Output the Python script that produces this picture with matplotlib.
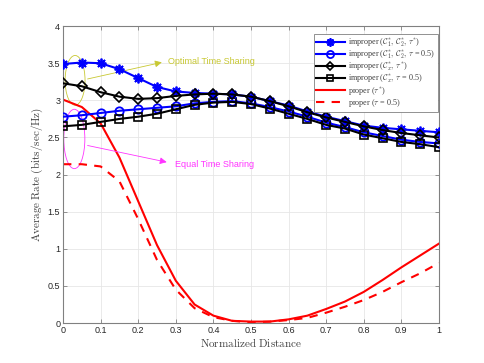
import numpy as np
import matplotlib
matplotlib.use("Agg")
import matplotlib.pyplot as plt
from matplotlib.patches import Ellipse

plt.rcParams['mathtext.fontset'] = 'cm'
plt.rcParams['font.family'] = ['Liberation Sans', 'DejaVu Sans']

distance = [0.0, 0.05, 0.1, 0.15, 0.2, 0.25, 0.3, 0.35, 0.4, 0.45, 0.5,
            0.55, 0.6, 0.65, 0.7, 0.75, 0.8, 0.85, 0.9, 0.95, 1.0]

improper_c1c2_opt = [3.49, 3.51, 3.50, 3.42, 3.30, 3.18, 3.12, 3.10, 3.09, 3.08, 3.05,
                     2.99, 2.93, 2.85, 2.78, 2.72, 2.66, 2.63, 2.61, 2.59, 2.57]
improper_c1c2_half = [2.78, 2.80, 2.83, 2.86, 2.88, 2.90, 2.92, 2.96, 2.98, 2.99, 2.96,
                      2.91, 2.85, 2.78, 2.70, 2.64, 2.57, 2.52, 2.47, 2.44, 2.42]
improper_cx_opt = [3.23, 3.19, 3.11, 3.05, 3.02, 3.03, 3.06, 3.08, 3.09, 3.08, 3.05,
                   2.99, 2.92, 2.84, 2.77, 2.71, 2.65, 2.60, 2.56, 2.53, 2.50]
improper_cx_half = [2.65, 2.67, 2.71, 2.75, 2.78, 2.82, 2.88, 2.94, 2.97, 2.98, 2.95,
                    2.89, 2.82, 2.75, 2.67, 2.62, 2.54, 2.49, 2.44, 2.41, 2.37]
proper_opt = [3.01, 2.91, 2.69, 2.23, 1.64, 1.05, 0.57, 0.25, 0.10, 0.03, 0.02,
              0.02, 0.05, 0.10, 0.19, 0.29, 0.42, 0.58, 0.75, 0.91, 1.07]
proper_half = [2.14, 2.14, 2.11, 1.91, 1.40, 0.85, 0.45, 0.20, 0.08, 0.03, 0.01,
               0.02, 0.04, 0.07, 0.14, 0.22, 0.31, 0.42, 0.55, 0.67, 0.81]

labels = [r'improper ($\mathcal{C}_1^{*},\,\mathcal{C}_2^{*},\,\tau^{*}$)',
          r'improper ($\mathcal{C}_1^{*},\,\mathcal{C}_2^{*},\,\tau$ = 0.5)',
          r'improper ($\mathcal{C}_x^{*},\,\tau^{*}$)',
          r'improper ($\mathcal{C}_x^{*},\,\tau$ = 0.5)',
          r'proper ($\tau^{*}$)',
          r'proper ($\tau$ = 0.5)']

fig = plt.figure(figsize=(4.85, 3.63), dpi=100)
ax = fig.add_axes([0.13, 0.11, 0.775, 0.818])

lw = 1.5
ax.plot(distance, improper_c1c2_opt, color='#0000ff', lw=lw, marker=(8, 2, 0),
        ms=7, mew=1.3, label=labels[0], zorder=5)
ax.plot(distance, improper_c1c2_half, color='#0000ff', lw=lw, marker='o',
        ms=6, mew=1.3, mfc='none', label=labels[1], zorder=4)
ax.plot(distance, improper_cx_opt, color='k', lw=lw, marker='D',
        ms=5, mew=1.2, mfc='none', label=labels[2], zorder=5)
ax.plot(distance, improper_cx_half, color='k', lw=lw, marker='s',
        ms=5.5, mew=1.2, mfc='none', label=labels[3], zorder=4)
ax.plot(distance, proper_opt, color='#ff0000', lw=lw, label=labels[4])
ax.plot(distance, proper_half, color='#ff0000', lw=lw, ls=(0, (4, 3.5)), label=labels[5])

ycol = '#c8c832'
mcol = '#ff33ff'
ax.add_patch(Ellipse((0.032, 3.27), 0.053, 0.67, fill=False, edgecolor=ycol, lw=0.6))
ax.add_patch(Ellipse((0.030, 2.48), 0.056, 0.80, fill=False, edgecolor=mcol, lw=0.6))
ax.annotate('', xy=(0.27, 3.52), xytext=(0.058, 3.28),
            arrowprops=dict(arrowstyle='-|>', color=ycol, lw=0.6, mutation_scale=10))
ax.text(0.28, 3.52, 'Optimal Time Sharing', color=ycol, fontsize=6.5, va='center', ha='left')
ax.annotate('', xy=(0.283, 2.16), xytext=(0.058, 2.40),
            arrowprops=dict(arrowstyle='-|>', color=mcol, lw=0.6, mutation_scale=10))
ax.text(0.298, 2.14, 'Equal Time Sharing', color=mcol, fontsize=6.5, va='center', ha='left')

ax.set_xlim(0, 1)
ax.set_ylim(0, 4)
ax.set_xticks(np.arange(0, 1.01, 0.1))
ax.set_xticklabels(['0', '0.1', '0.2', '0.3', '0.4', '0.5', '0.6', '0.7', '0.8', '0.9', '1'])
ax.set_yticks(np.arange(0, 4.01, 0.5))
ax.set_yticklabels(['0', '0.5', '1', '1.5', '2', '2.5', '3', '3.5', '4'])
ax.grid(True, color='#e6e6e6', lw=0.6)
ax.set_axisbelow(True)
for s in ax.spines.values():
    s.set_color('#808080')
    s.set_linewidth(0.8)
ax.tick_params(direction='in', top=True, right=True, length=3, width=0.6,
               color='#808080', labelsize=6.5, labelcolor='#262626', pad=2)

ax.set_xlabel(r'$\mathrm{Normalized\ Distance}$', fontsize=8, color='#404040', labelpad=1)
ax.set_ylabel(r'$\mathrm{Average\ Rate\ (bits/sec/Hz)}$', fontsize=8, color='#404040', labelpad=2)

leg = ax.legend(loc='upper right', bbox_to_anchor=(0.9965, 0.972), borderaxespad=0,
                prop={'family': ['Liberation Serif', 'DejaVu Serif'], 'size': 5.9},
                frameon=True, fancybox=False, framealpha=1,
                borderpad=0.3, labelspacing=0.0, handlelength=3.5, handletextpad=0.4)
leg.get_frame().set_edgecolor('#808080')
leg.get_frame().set_linewidth(0.6)
for t in leg.get_texts():
    t.set_color('#404040')
for h in leg.legend_handles:
    h.set_markersize(h.get_markersize() * 0.85)

fig.savefig('out.png', dpi=100)
